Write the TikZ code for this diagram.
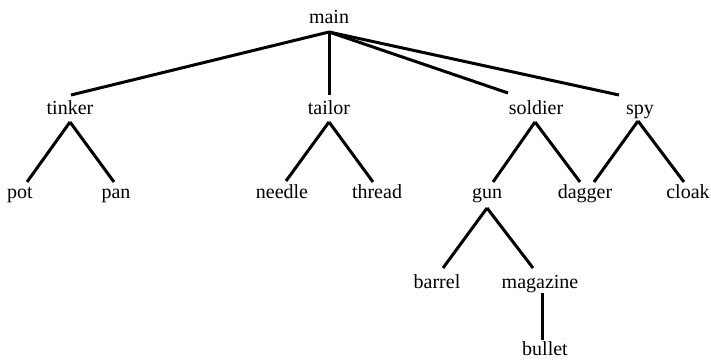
\documentclass[tikz,border=0pt]{standalone}
\usepackage{fontspec}
\setmainfont{Liberation Serif}
\usetikzlibrary{calc}
\begin{document}
\begin{tikzpicture}[x=1pt,y=-1pt,
  word/.style={font=\fontsize{20}{24}\selectfont, inner sep=0pt, anchor=base},
  branch/.style={line width=3pt}]
\useasboundingbox (0,0) rectangle (711,359);

% labels, placed by their baselines
\node[word] (main)     at (329,23)  {main};
\node[word] (tinker)   at (70,114)  {tinker};
\node[word] (tailor)   at (329,114) {tailor};
\node[word] (soldier)  at (536,114) {soldier};
\node[word] (spy)      at (640,114) {spy};
\node[word] (pot)      at (20,198)  {pot};
\node[word] (pan)      at (116,198) {pan};
\node[word] (needle)   at (282,198) {needle};
\node[word] (thread)   at (377,198) {thread};
\node[word] (gun)      at (487,198) {gun};
\node[word] (dagger)   at (585,198) {dagger};
\node[word] (cloak)    at (688,198) {cloak};
\node[word] (barrel)   at (437,288) {barrel};
\node[word] (magazine) at (540,288) {magazine};
\node[word] (bullet)   at (545,355) {bullet};

% branches from main
\draw[branch] ($(main.base)+(0,9)$) -- ($(tinker.base)+(1,-19)$);
\draw[branch] ($(main.base)+(0,9)$) -- ($(tailor.base)+(0,-19)$);
\draw[branch] ($(main.base)+(0,9)$) -- ($(soldier.base)+(-28,-21)$);
\draw[branch] ($(main.base)+(0,9)$) -- ($(spy.base)+(-21,-19)$);

% second level
\draw[branch] ($(tinker.base)+(0,8)$) -- ($(pot.base)+(7,-16)$);
\draw[branch] ($(tinker.base)+(0,8)$) -- ($(pan.base)+(-2,-16)$);
\draw[branch] ($(tailor.base)+(0,8)$) -- ($(needle.base)+(4,-17)$);
\draw[branch] ($(tailor.base)+(0,8)$) -- ($(thread.base)+(-4,-16)$);
\draw[branch] ($(soldier.base)+(-1,8)$) -- ($(gun.base)+(6,-16)$);
\draw[branch] ($(soldier.base)+(-1,8)$) -- ($(dagger.base)+(-5,-16)$);
\draw[branch] ($(spy.base)+(-2,7)$) -- ($(dagger.base)+(9,-16)$);
\draw[branch] ($(spy.base)+(-2,7)$) -- ($(cloak.base)+(-4,-16)$);

% third level
\draw[branch] ($(gun.base)+(0,10)$) -- ($(barrel.base)+(6,-20)$);
\draw[branch] ($(gun.base)+(0,10)$) -- ($(magazine.base)+(-7,-20)$);
\draw[branch] ($(magazine.base)+(2,5)$) -- ($(bullet.base)+(-3,-15)$);
\end{tikzpicture}
\end{document}
